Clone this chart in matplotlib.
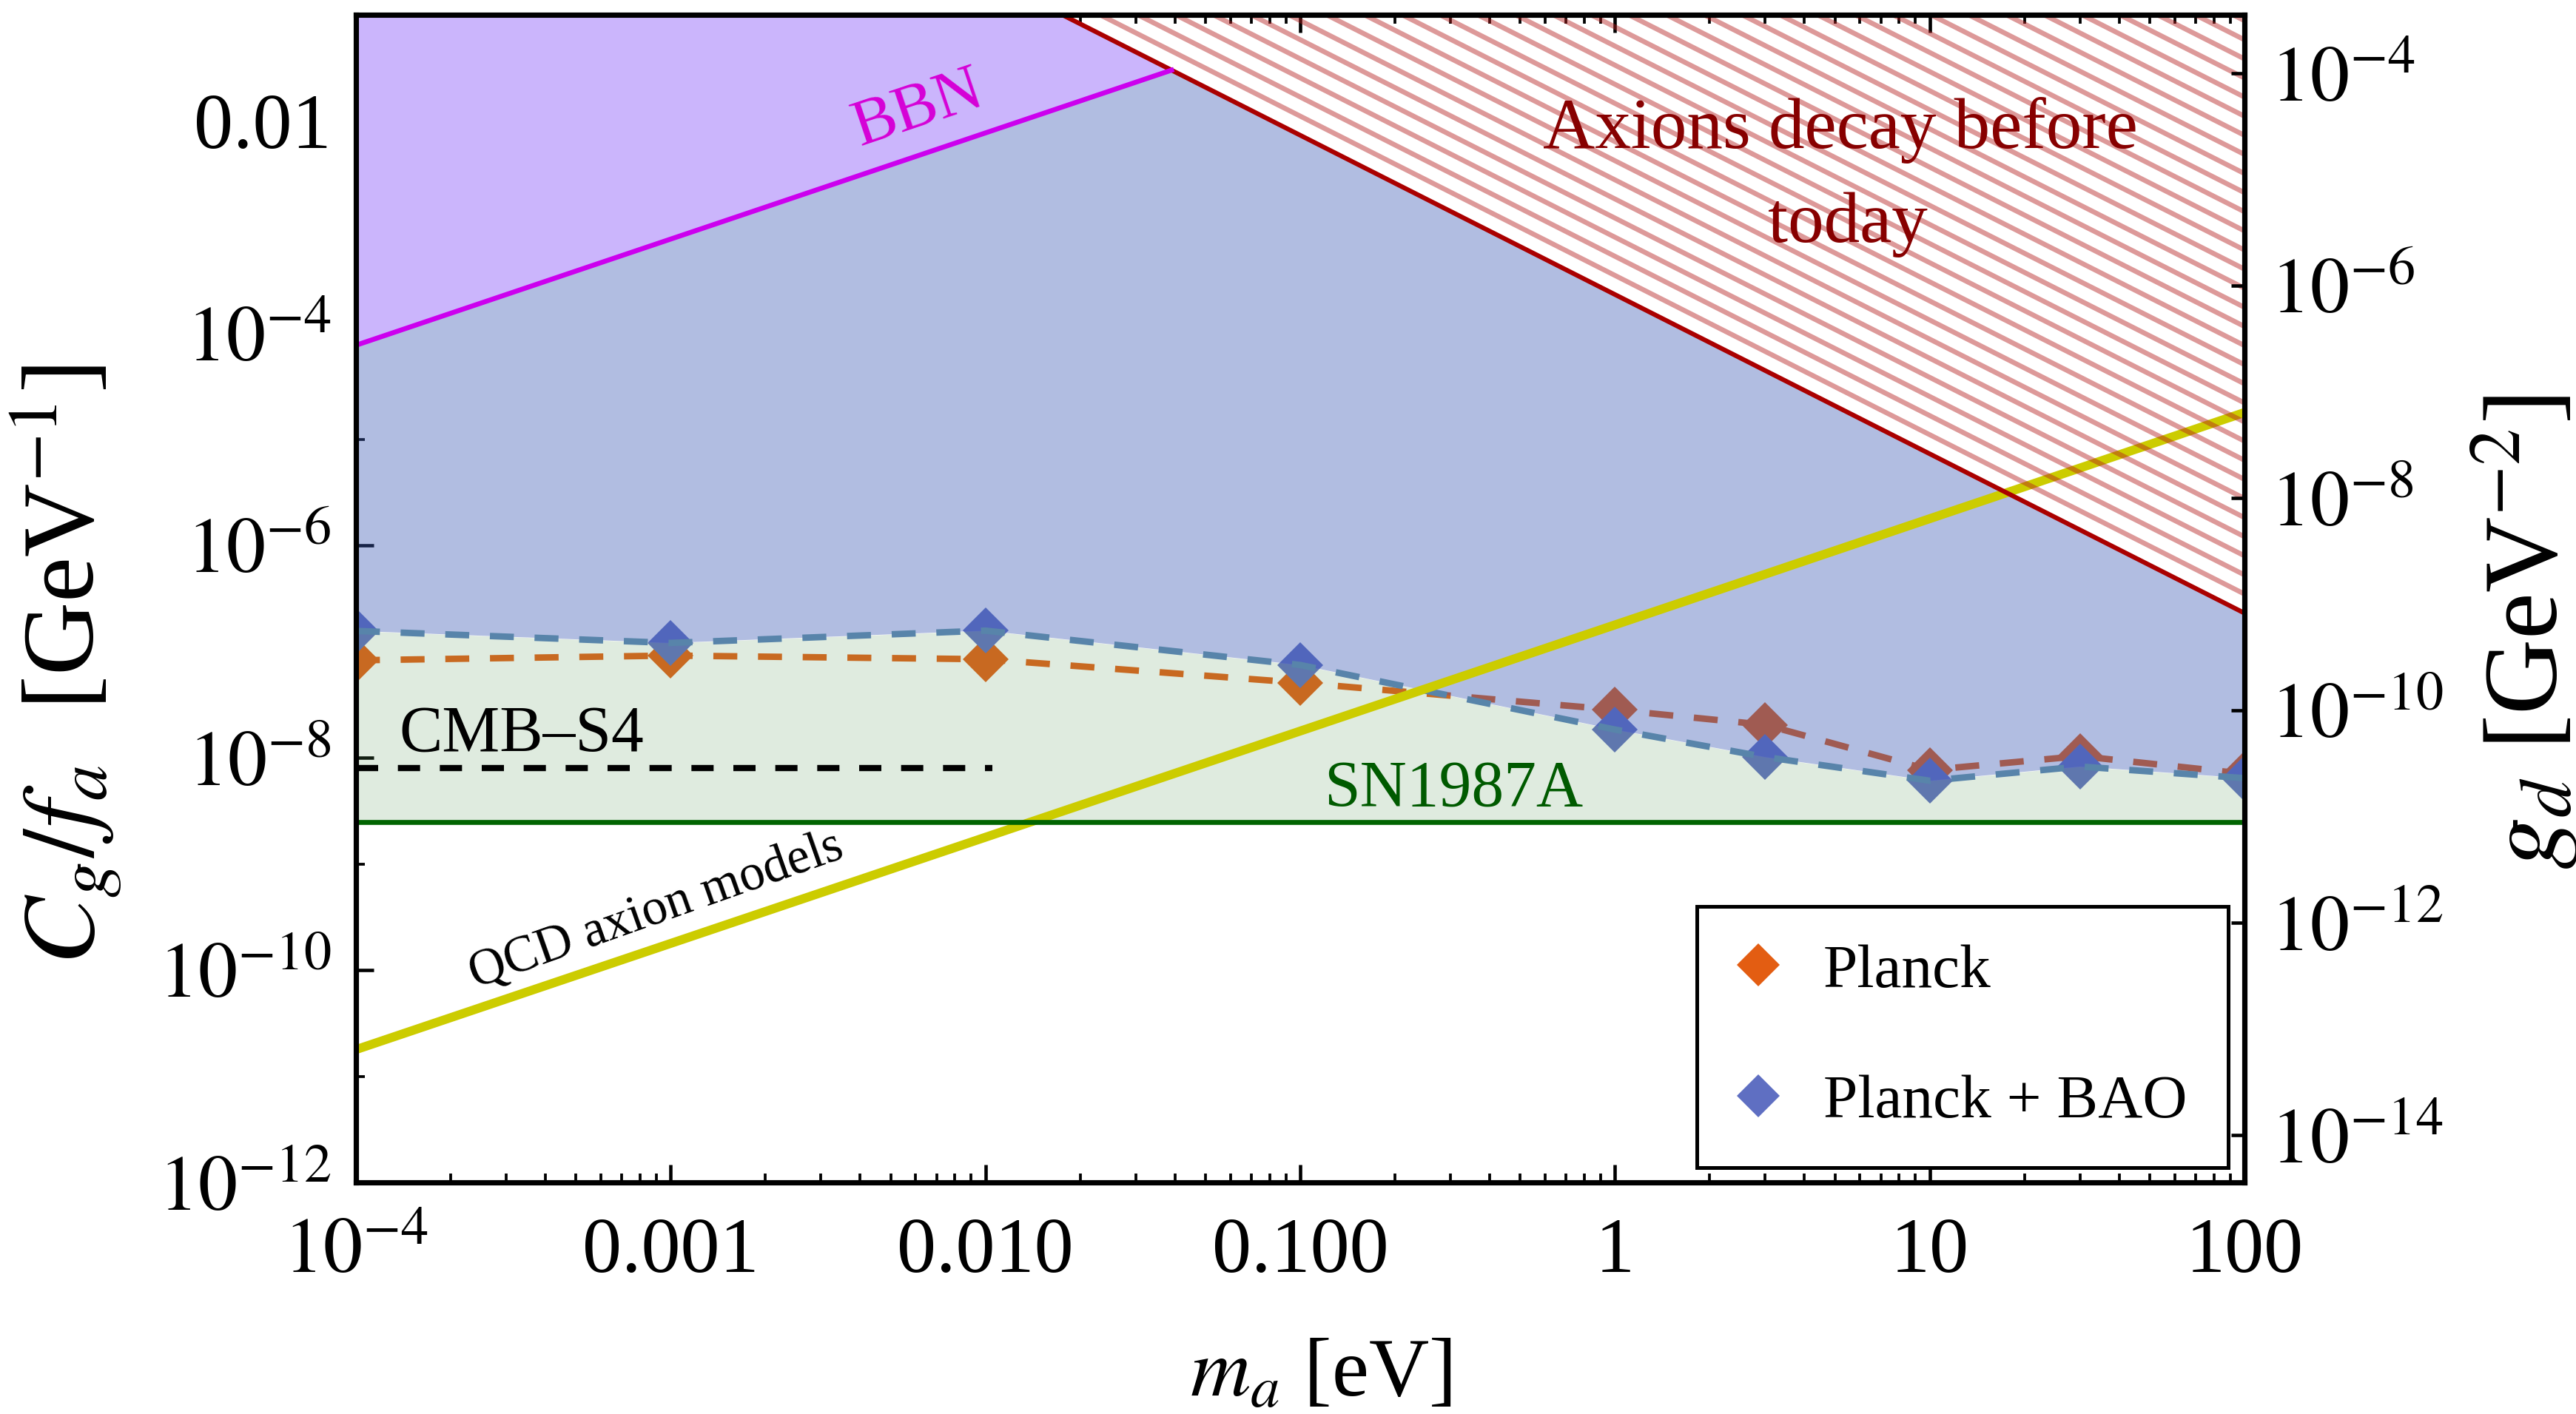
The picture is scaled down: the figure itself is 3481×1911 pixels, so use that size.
import numpy as np
import matplotlib
matplotlib.use("Agg")
import matplotlib.pyplot as plt
from matplotlib.lines import Line2D
from matplotlib.ticker import LogLocator, NullFormatter, NullLocator

plt.rcParams["font.family"] = "serif"
plt.rcParams["font.serif"] = ["Liberation Serif", "DejaVu Serif"]
plt.rcParams["mathtext.fontset"] = "stix"

# --- values ---
m_a = [1e-4, 1e-3, 1e-2, 0.1, 1, 3, 10, 30, 100]
planck = [8.3e-8, 9.2e-8, 8.5e-8, 5.1e-8, 2.84e-8, 2.05e-8, 7.7e-9, 1.04e-8, 7.1e-9]
planck_bao = [1.57e-7, 1.21e-7, 1.58e-7, 7.5e-8, 1.85e-8, 1.02e-8, 6.1e-9, 8.3e-9, 6.45e-9]

sn1987a = 2.5e-9
cmb_s4_x = [1e-4, 0.0105]
cmb_s4 = 8.05e-9

qcd_x = [1e-4, 100]
qcd_y = [1.79e-11, 1.79e-5]
bbn_x = [1e-4, 0.039]
bbn_y = [7.7e-5, 0.030]
decay_x = [0.0175, 100]
decay_y = [0.1, 2.31e-7]

x_ticks = [1e-4, 1e-3, 1e-2, 0.1, 1, 10, 100]
x_labels = [r"$10^{-4}$", "0.001", "0.010", "0.100", "1", "10", "100"]
y_ticks = [1e-2, 1e-4, 1e-6, 1e-8, 1e-10, 1e-12]
y_labels = ["0.01", r"$10^{-4}$", r"$10^{-6}$", r"$10^{-8}$", r"$10^{-10}$", r"$10^{-12}$"]
y_minor = [1e-3, 1e-5, 1e-7, 1e-9, 1e-11]
gd_ticks = [1e-4, 1e-6, 1e-8, 1e-10, 1e-12, 1e-14]
gd_labels = [r"$10^{-4}$", r"$10^{-6}$", r"$10^{-8}$", r"$10^{-10}$", r"$10^{-12}$", r"$10^{-14}$"]
gd_per_cg = 10 ** -2.446   # right axis offset

c_planck = "#E35D12"
c_bao = "#5F6FC2"

fig = plt.figure(figsize=(3481 / 300, 1911 / 300), dpi=300)
ax = fig.add_axes([0.13818, 0.16363, 0.73312, 0.82601])
ax.set_xscale("log")
ax.set_yscale("log")
ax.set_xlim(1e-4, 100)
ax.set_ylim(1e-12, 0.1)

# data points + lines (under the translucent fills)
ax.plot(m_a, planck, color=c_planck, lw=2.1, dashes=(3.7, 3.2), zorder=2)
ax.plot(m_a, planck, ls="none", marker="D", ms=10.5, color=c_planck, mec="none", zorder=2)
ax.plot(m_a, planck_bao, ls="none", marker="D", ms=10.5, color=c_bao, mec="none", zorder=2)

# excluded regions
ax.fill_between(m_a, sn1987a, planck_bao, color="#5F9B5F", alpha=0.2, lw=0, zorder=3)
ax.fill(m_a + [100, decay_x[0], 1e-4], planck_bao + [decay_y[1], 0.1, 0.1],
        color="#3C5AB4", alpha=0.4, lw=0, zorder=3)
ax.fill(bbn_x + [decay_x[0], 1e-4], bbn_y + [0.1, 0.1], color="#CBB5FC", lw=0, zorder=3.5)

ax.plot(m_a, planck_bao, color="#5884AA", lw=2.1, dashes=(3.7, 3.2), zorder=4)

# QCD axion line
ax.plot(qcd_x, qcd_y, color="#CCCC00", lw=2.9, solid_capstyle="butt", zorder=4.5)

# hatching parallel to the decay boundary
for k in range(1, 36):
    f = 10 ** (0.18 * k)
    ax.plot(decay_x, [decay_y[0] * f, decay_y[1] * f], color="#B41E1E", alpha=0.45,
            lw=1.6, zorder=4.6)

ax.plot(decay_x, decay_y, color="#AA0000", lw=1.5, zorder=5)
ax.plot(bbn_x, bbn_y, color="#CC00EE", lw=1.6, zorder=5)
ax.axhline(sn1987a, color="#006400", lw=1.6, zorder=5)
ax.plot(cmb_s4_x, [cmb_s4, cmb_s4], color="black", lw=2.0, dashes=(3.6, 3.2), zorder=5)

# annotations
ax.text(6.1e-3, 0.0128, "BBN", color="#D600D6", fontsize=21, rotation=18.6,
        rotation_mode="anchor", ha="center", va="center", zorder=6)
ax.text(5.2, 5.57e-3, "Axions decay before", color="#870000", fontsize=23.3,
        ha="center", va="baseline", zorder=6)
ax.text(5.5, 7.22e-4, "today", color="#870000", fontsize=23.3,
        ha="center", va="baseline", zorder=6)
ax.text(1.37e-4, 1.16e-8, "CMB\u2013S4", color="black", fontsize=21,
        ha="left", va="baseline", zorder=6)
ax.text(0.119, 3.56e-9, "SN1987A", color="#005A00", fontsize=21,
        ha="left", va="baseline", zorder=6)
ax.text(2.39e-4, 6.8e-11, "QCD axion models", color="black", fontsize=16.5,
        rotation=19.5, rotation_mode="anchor", ha="left", va="baseline", zorder=6)

# ticks
ax.set_xticks(x_ticks, x_labels)
ax.xaxis.set_minor_locator(LogLocator(base=10, subs=np.arange(2, 10), numticks=100))
ax.xaxis.set_minor_formatter(NullFormatter())
ax.set_yticks(y_ticks, y_labels)
ax.set_yticks(y_minor, minor=True)
ax.yaxis.set_minor_formatter(NullFormatter())
ax.tick_params(which="both", direction="in", top=True, right=False, labelsize=25.5)
ax.tick_params(which="major", length=5.8, width=1.1)
ax.tick_params(which="minor", length=2.9, width=0.9)
ax.tick_params(axis="x", which="major", pad=29)
ax.tick_params(axis="y", which="major", pad=8)
for lbl in ax.get_xticklabels():
    lbl.set_va("baseline")

ax.set_xlabel(r"$m_a$ [eV]", fontsize=27)
ax.xaxis.label.set_va("baseline")
ax.xaxis.set_label_coords(0.511, -0.183)
ax.set_ylabel(r"$C_g/f_a$  [GeV$^{-1}$]", fontsize=33)
ax.yaxis.label.set_va("center")
ax.yaxis.set_label_coords(-0.1536, 0.443)

# right axis: g_d
ax2 = ax.twinx()
ax2.set_yscale("log")
ax2.set_ylim(1e-12 * gd_per_cg, 0.1 * gd_per_cg)
ax2.set_yticks(gd_ticks, gd_labels)
ax2.yaxis.set_minor_locator(NullLocator())
ax2.tick_params(direction="in", length=4.3, width=1.1, labelsize=25.5, pad=8.4)
ax2.set_ylabel(r"$g_d$ [GeV$^{-2}$]", fontsize=34, rotation=90)
ax2.yaxis.label.set_va("center")
ax2.yaxis.label.set_ha("center")
ax2.yaxis.set_label_coords(1.1485, 0.471)

for a in (ax, ax2):
    for s in a.spines.values():
        s.set_linewidth(1.7)

handles = [
    Line2D([], [], ls="none", marker="D", ms=10, color=c_planck, mec="none"),
    Line2D([], [], ls="none", marker="D", ms=10, color=c_bao, mec="none"),
]
leg = ax.legend(handles, ["Planck", "Planck + BAO"], loc="lower left",
                bbox_to_anchor=(0.710, 0.0129, 0.2814, 0.2242), mode="expand",
                borderaxespad=0, fontsize=20, frameon=True, fancybox=False,
                edgecolor="black", framealpha=1, borderpad=0.6, labelspacing=1.2,
                handlelength=0.8, handletextpad=0.65)
leg.get_frame().set_linewidth(1.2)
leg.set_zorder(10)

fig.savefig("out.png", dpi=300)
